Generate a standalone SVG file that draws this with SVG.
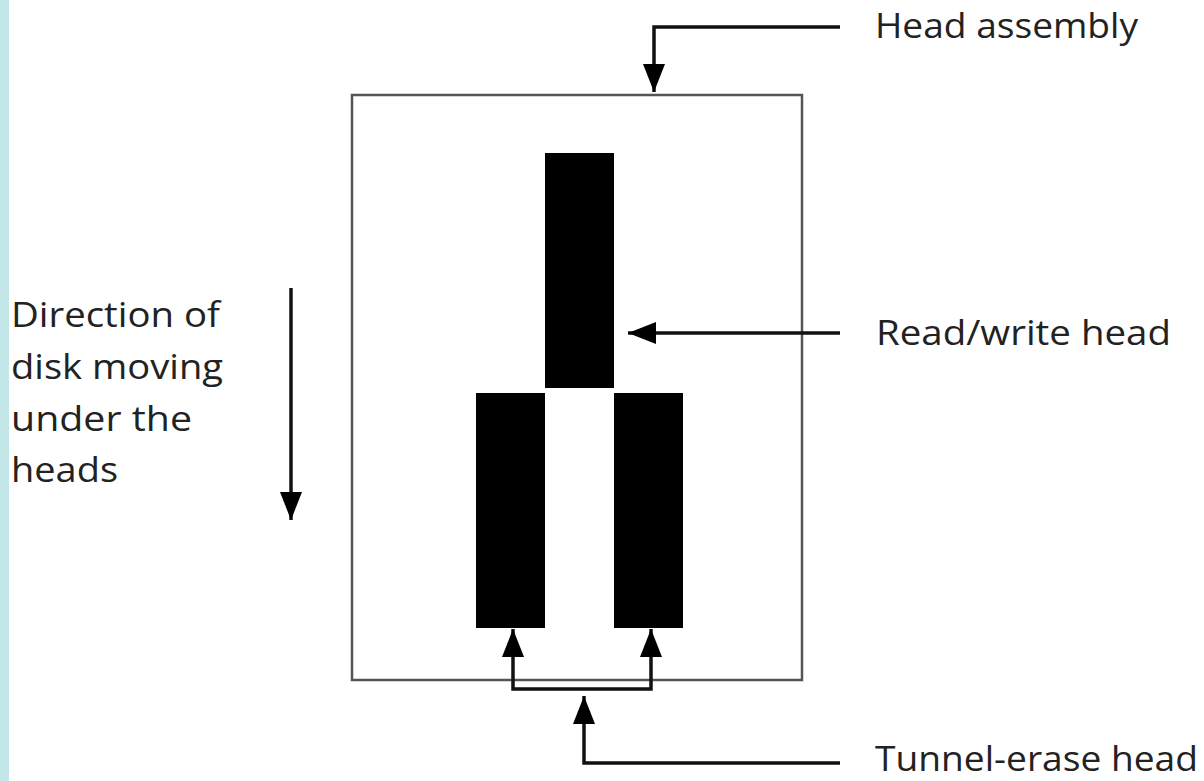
<svg xmlns="http://www.w3.org/2000/svg" width="1204" height="781" viewBox="0 0 1204 781">
  <style>
    .lbl { font-family: "Open Sans", Lato, "DejaVu Sans", sans-serif; font-size: 35px; fill: #222; }
    .wire { fill: none; stroke: #111; stroke-width: 3.5; }
    .head { fill: #000; }
  </style>
  <defs>
    <marker id="arrow" viewBox="0 0 28 22" refX="28" refY="11" markerWidth="28" markerHeight="22" markerUnits="userSpaceOnUse" orient="auto">
      <path d="M0,0 L28,11 L0,22 Z" fill="#000"/>
    </marker>
  </defs>

  <!-- side strip -->
  <rect x="0" y="0" width="9" height="781" fill="#c3e6e9"/>

  <!-- head assembly housing -->
  <g id="head-assembly">
    <rect x="352" y="95" width="450" height="585" fill="none" stroke="#555" stroke-width="2.5"/>
  </g>

  <!-- read/write head -->
  <g id="read-write-head">
    <rect class="head" x="545" y="153" width="69" height="235"/>
  </g>

  <!-- tunnel-erase heads -->
  <g id="erase-head-left">
    <rect class="head" x="476" y="393" width="69" height="235"/>
  </g>
  <g id="erase-head-right">
    <rect class="head" x="614" y="393" width="69" height="235"/>
  </g>

  <!-- connectors -->
  <g id="connectors">
    <path class="wire" d="M840,27 H654 V92" marker-end="url(#arrow)"/>
    <path class="wire" d="M840,333 H628" marker-end="url(#arrow)"/>
    <path class="wire" d="M291,288 V520" marker-end="url(#arrow)"/>
    <path class="wire" d="M584,689 H513 V629" marker-end="url(#arrow)"/>
    <path class="wire" d="M584,689 H651 V629" marker-end="url(#arrow)"/>
    <path class="wire" d="M840,763 H584 V696" marker-end="url(#arrow)"/>
  </g>

  <!-- labels -->
  <g id="labels">
    <text class="lbl" x="875" y="38" textLength="263" lengthAdjust="spacingAndGlyphs">Head assembly</text>
    <text class="lbl" x="876" y="345" textLength="295" lengthAdjust="spacingAndGlyphs">Read/write head</text>
    <text class="lbl" x="875" y="771" textLength="323" lengthAdjust="spacingAndGlyphs">Tunnel-erase head</text>
    <text class="lbl" x="11" y="327" textLength="209" lengthAdjust="spacingAndGlyphs">Direction of</text>
    <text class="lbl" x="11" y="379" textLength="212" lengthAdjust="spacingAndGlyphs">disk moving</text>
    <text class="lbl" x="11" y="431" textLength="181" lengthAdjust="spacingAndGlyphs">under the</text>
    <text class="lbl" x="11" y="482" textLength="107" lengthAdjust="spacingAndGlyphs">heads</text>
  </g>
</svg>
